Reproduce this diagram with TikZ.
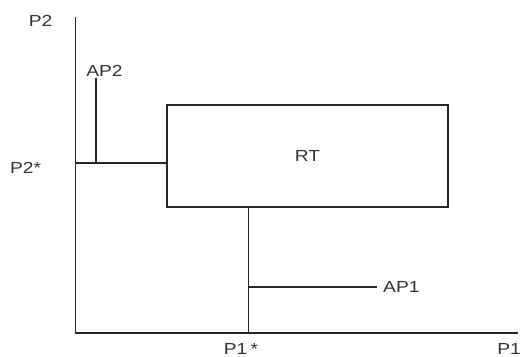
\documentclass[tikz,border=0pt]{standalone}
\usepackage{fontspec}
\setmainfont{Liberation Sans}
\newcommand{\widetxt}[1]{\scalebox{1.2}[1]{#1}}
\begin{document}
\begin{tikzpicture}[x=1pt,y=-1pt,
  ln/.style={line width=1.3pt,draw=black!85},
  lbl/.style={inner sep=0pt,font=\fontsize{16}{18}\selectfont,text=black!80},
  box/.style={ln,rectangle,minimum width=281pt,minimum height=102pt,inner sep=0pt,font=\fontsize{16}{18}\selectfont,text=black!80}]
\useasboundingbox (0,0) rectangle (524,356);
\fill[white] (0,0) rectangle (524,356);
% axes
\coordinate (o) at (75.5,333);
\coordinate (ytop) at (75.5,17);
\coordinate (xend) at (518,333);
\draw[ln] (ytop) -- (o) -- (xend);
% RT box
\node[box] (rt) at (307.5,156) {\widetxt{RT}};
% P2* line
\coordinate (p2s) at (75.5,163);
\draw[ln] (p2s) -- (p2s -| rt.west);
% AP2
\coordinate (ap2top) at (96,78);
\coordinate (ap2bot) at (96,163);
\draw[ln] (ap2top) -- (ap2bot);
% P1* line
\coordinate (p1s) at (248.5,333);
\draw[ln] (p1s) -- (p1s |- rt.south);
% AP1
\coordinate (ap1l) at (248.5,287);
\coordinate (ap1r) at (377,287);
\draw[ln] (ap1l) -- (ap1r);
% labels
\node[lbl] (lp2) at (40.5,20.5) {\widetxt{P2}};
\node[lbl] (lap2) at (104.5,71) {\widetxt{AP2}};
\node[lbl] (lp2s) at (25.5,168) {\widetxt{P2*}};
\node[lbl,anchor=west] (lap1) at (383,287) {\widetxt{AP1}};
\node[lbl] (lp1s) at (241,348.5) {\widetxt{P1\,*}};
\node[lbl] (lp1) at (509,348.5) {\widetxt{P1}};
\end{tikzpicture}
\end{document}
